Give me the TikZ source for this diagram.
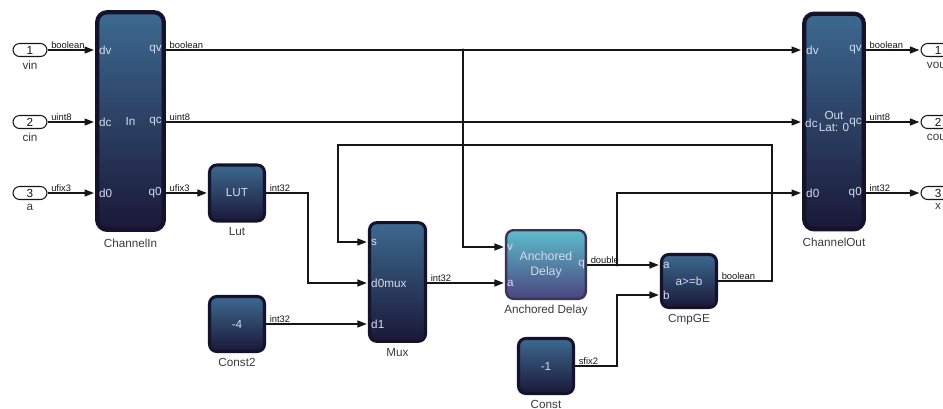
\documentclass[tikz,border=0pt]{standalone}
\usepackage{fontspec}
\setmainfont{Liberation Sans}
\usetikzlibrary{positioning,arrows.meta}
\definecolor{wireInk}{HTML}{161616}
\definecolor{captionInk}{HTML}{3A3A3A}
\definecolor{blockEdge}{HTML}{15122C}
\definecolor{blockTop}{HTML}{3D6990}
\definecolor{blockMid}{HTML}{263A5E}
\definecolor{blockBottom}{HTML}{1A1838}
\definecolor{blockText}{HTML}{D5DCE8}
\definecolor{delayEdge}{HTML}{3B3457}
\definecolor{delayTop}{HTML}{5DBDCB}
\definecolor{delayBottom}{HTML}{4A4580}
\tikzset{
  sim block/.style={
    draw=blockEdge,
    line width=2.6pt,
    rounded corners=2.2mm,
    top color=blockTop,
    middle color=blockMid,
    bottom color=blockBottom,
    text=blockText,
    font=\fontsize{10}{10}\selectfont,
    align=center,
    inner sep=0pt
  },
  channel block/.style={
    sim block,
    line width=3.6pt,
    rounded corners=3mm
  },
  delay block/.style={
    sim block,
    draw=delayEdge,
    top color=delayTop,
    bottom color=delayBottom,
    line width=2pt,
    font=\fontsize{10.5}{12.5}\selectfont
  },
  port text/.style={
    text=blockText,
    font=\fontsize{10}{10}\selectfont,
    inner sep=0pt
  },
  block caption/.style={
    text=captionInk,
    font=\fontsize{10}{10}\selectfont,
    inner sep=1pt
  },
  io pill/.style={
    draw=wireInk,
    line width=0.9pt,
    rounded corners=2mm,
    minimum width=1.02cm,
    minimum height=0.39cm,
    inner sep=0pt,
    font=\fontsize{10}{10}\selectfont,
    text=wireInk
  },
  wire label/.style={
    anchor=south west,
    font=\fontsize{8}{8}\selectfont,
    text=wireInk,
    inner sep=1pt,
    xshift=2pt
  },
  signal edge/.style={
    -{Triangle[length=8pt,width=6pt]},
    draw=wireInk,
    line width=1pt,
    shorten >=1pt
  },
  tap dot/.style={
    circle,
    fill=wireInk,
    inner sep=0pt,
    minimum size=2.6pt
  }
}
\begin{document}
\begin{tikzpicture}[x=0.03cm,y=-0.03cm]
  \clip (0,0) rectangle (943,408);

  % inports
  \node[io pill] (in1) at (30,50) {1};
  \node[block caption,below=2pt of in1] (in1name) {vin};
  \node[io pill] (in2) at (30,122) {2};
  \node[block caption,below=2pt of in2] (in2name) {cin};
  \node[io pill] (in3) at (30,193) {3};
  \node[block caption,below=2pt of in3] (in3name) {a};

  % ChannelIn
  \node[channel block,minimum width=2cm,minimum height=6.53cm] (chin) at (130.5,121) {In};
  \node[block caption,below=1.6mm of chin] (chinname) {ChannelIn};
  \node[port text,anchor=west] (chindv) at (99,50) {dv};
  \node[port text,anchor=west] (chindc) at (99,122) {dc};
  \node[port text,anchor=west] (chind0) at (99,193) {d0};
  \node[port text,anchor=east] (chinqv) at (162,50) {qv};
  \node[port text,anchor=east] (chinqc) at (162,122) {qc};
  \node[port text,anchor=east] (chinq0) at (162,193) {q0};

  % Lut and Const2
  \node[sim block,minimum width=1.65cm,minimum height=1.68cm] (lut) at (237,193) {LUT};
  \node[block caption,below=1.2mm of lut] (lutname) {Lut};
  \node[sim block,minimum width=1.65cm,minimum height=1.65cm] (const2) at (237,324) {-4};
  \node[block caption,below=1.2mm of const2] (const2name) {Const2};

  % Mux
  \node[sim block,minimum width=1.68cm,minimum height=3.56cm] (mux) at (397.5,282) {};
  \node[block caption,below=1.2mm of mux] (muxname) {Mux};
  \node[port text,anchor=west] (muxs) at (371,242) {s};
  \node[port text,anchor=west] (muxd0) at (371,283) {d0mux};
  \node[port text,anchor=west] (muxd1) at (371,324) {d1};

  % Anchored Delay
  \node[delay block,minimum width=2.39cm,minimum height=2.06cm] (delay) at (546,264.5) {Anchored\\Delay};
  \node[block caption,below=1.2mm of delay] (delayname) {Anchored Delay};
  \node[port text,anchor=west] (delayv) at (507,247) {v};
  \node[port text,anchor=west] (delaya) at (507,283) {a};
  \node[port text,anchor=east] (delayq) at (585,265) {q};

  % CmpGE and Const
  \node[sim block,minimum width=1.65cm,minimum height=1.59cm] (cmp) at (689,281) {a>=b};
  \node[block caption,below=1.2mm of cmp] (cmpname) {CmpGE};
  \node[port text,anchor=west] (cmpa) at (663,265) {a};
  \node[port text,anchor=west] (cmpb) at (663,295) {b};
  \node[sim block,minimum width=1.65cm,minimum height=1.65cm] (const) at (546,366) {-1};
  \node[block caption,below=1.2mm of const] (constname) {Const};

  % ChannelOut
  \node[channel block,minimum width=1.79cm,minimum height=6.47cm] (chout) at (834,121.5) {Out\\Lat: 0};
  \node[block caption,below=1.6mm of chout] (choutname) {ChannelOut};
  \node[port text,anchor=west] (choutdv) at (806,50) {dv};
  \node[port text,anchor=west] (choutdc) at (805,123) {dc};
  \node[port text,anchor=west] (choutd0) at (806,193) {d0};
  \node[port text,anchor=east] (choutqv) at (862,50) {qv};
  \node[port text,anchor=east] (choutqc) at (862,123) {qc};
  \node[port text,anchor=east] (choutq0) at (862,193) {q0};

  % outports
  \node[io pill] (out1) at (938,50) {1};
  \node[block caption,below=2pt of out1] (out1name) {vout};
  \node[io pill] (out2) at (938,122) {2};
  \node[block caption,below=2pt of out2] (out2name) {cout};
  \node[io pill] (out3) at (938,193) {3};
  \node[block caption,below=2pt of out3] (out3name) {x};

  % taps and bends
  \node[tap dot] (vtap) at (463,50) {};
  \node[tap dot] (qtap) at (617,265) {};
  \coordinate (loopR) at (772,145);
  \coordinate (loopL) at (338,145);

  % wires
  \draw[signal edge] (in1) -- (chin.west |- in1);
  \draw[signal edge] (in2) -- (chin.west |- in2);
  \draw[signal edge] (in3) -- (chin.west |- in3);
  \draw[signal edge] (chin.east |- in1) -- (chout.west |- in1);
  \draw[signal edge] (chin.east |- in2) -- (chout.west |- in2);
  \draw[signal edge] (chin.east |- in3) -- (lut.west);
  \draw[signal edge] (lut.east) -- ++(42,0) |- (mux.west |- muxd0);
  \draw[signal edge] (const2.east) -- (mux.west |- muxd1);
  \draw[signal edge] (vtap.center) |- (delay.west |- delayv);
  \draw[signal edge] (mux.east |- muxd0) -- (delay.west |- delaya);
  \draw[signal edge] (delay.east |- delayq) -- (cmp.west |- cmpa);
  \draw[signal edge] (qtap.center) |- (chout.west |- choutd0);
  \draw[signal edge] (const.east) -- ++(42,0) |- (cmp.west |- cmpb);
  \draw[signal edge] (cmp.east) -| (loopR) -- (loopL) |- (mux.west |- muxs);
  \draw[signal edge] (chout.east |- out1) -- (out1);
  \draw[signal edge] (chout.east |- out2) -- (out2);
  \draw[signal edge] (chout.east |- out3) -- (out3);

  % signal types
  \node[wire label] (t1) at (in1.east) {boolean};
  \node[wire label] (t2) at (in2.east) {uint8};
  \node[wire label] (t3) at (in3.east) {ufix3};
  \node[wire label] (t4) at (chin.east |- in1) {boolean};
  \node[wire label] (t5) at (chin.east |- in2) {uint8};
  \node[wire label] (t6) at (chin.east |- in3) {ufix3};
  \node[wire label] (t7) at (lut.east) {int32};
  \node[wire label] (t8) at (const2.east) {int32};
  \node[wire label] (t9) at (mux.east |- muxd0) {int32};
  \node[wire label] (t10) at (delay.east |- delayq) {double};
  \node[wire label] (t11) at (const.east) {sfix2};
  \node[wire label] (t12) at (cmp.east) {boolean};
  \node[wire label] (t13) at (chout.east |- out1) {boolean};
  \node[wire label] (t14) at (chout.east |- out2) {uint8};
  \node[wire label] (t15) at (chout.east |- out3) {int32};
\end{tikzpicture}
\end{document}
